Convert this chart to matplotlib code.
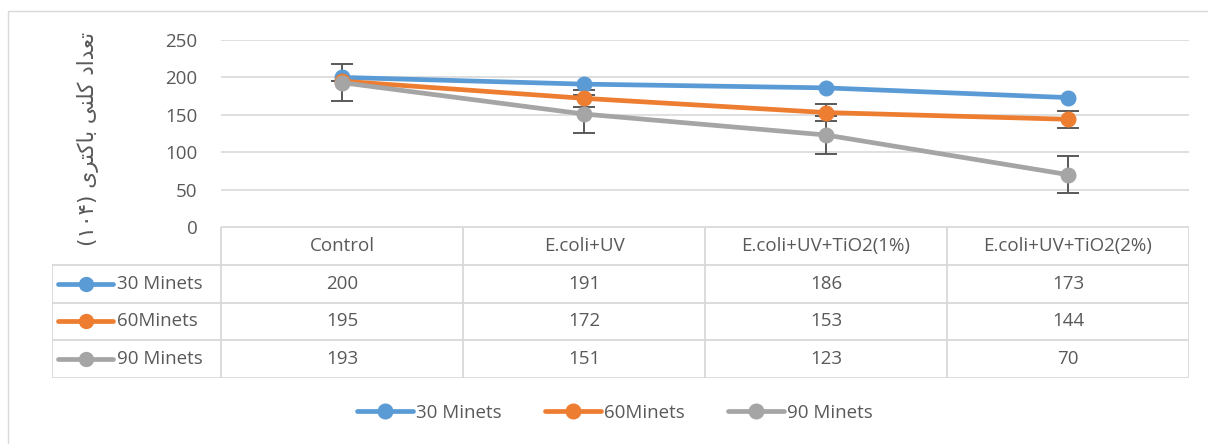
import matplotlib.pyplot as plt
from matplotlib.patches import Rectangle

# data
categories = ['Control', 'E.coli+UV', 'E.coli+UV+TiO2(1%)', 'E.coli+UV+TiO2(2%)']
series_names = ['30 Minets', '60Minets', '90 Minets']
min30 = [200, 191, 186, 173]
min60 = [195, 172, 153, 144]
min90 = [193, 151, 123, 70]
err30 = None
err60 = [0, 11, 11, 11]
err90 = [25, 25, 25, 25]
colors = ['#5B9BD5', '#ED7D31', '#A5A5A5']

# y label: "تعداد کلنی باکتری (۱۰۴)" written in shaped, visual (left-to-right) order
ylabel = ('(\u06f1\u06f0\u06f4) '
          '\ufbfc\ufeae\ufe98\ufb90\ufe8e\ufe91 '
          '\ufbfd\ufee8\ufee0\ufb90 '
          '\ufea9\ufe8d\ufeaa\ufecc\ufe97')

plt.rcParams['font.family'] = ['Open Sans', 'DejaVu Sans']
fs = 13.5
txt = '#595959'
grid_c = '#d9d9d9'

W, H = 1208, 444
fig = plt.figure(figsize=(W / 100, H / 100), dpi=100)


def fx(px):
    return px / W


def fy(py):
    return 1 - py / H


# chart area border
fig.patches.append(Rectangle((fx(8), -0.1), 1.2, fy(11) + 0.1, transform=fig.transFigure,
                             fill=False, edgecolor=grid_c, lw=1))

# plot area
ax = fig.add_axes([fx(221), fy(227), fx(1189) - fx(221), fy(40) - fy(227)])
ax.set_xlim(-0.5, 3.5)
ax.set_ylim(0, 250)
ax.set_yticks(range(0, 251, 50))
ax.set_xticks([])
ax.grid(axis='y', color=grid_c, lw=1.2)
ax.set_axisbelow(True)
for s in ax.spines.values():
    s.set_visible(False)
ax.tick_params(axis='y', length=0, pad=17, labelcolor=txt, labelsize=fs)

x = list(range(len(categories)))
all_series = [min30, min60, min90]
all_err = [err30, err60, err90]
handles = []
for i, (vals, errs, c) in enumerate(zip(all_series, all_err, colors)):
    if errs:
        ax.errorbar(x, vals, yerr=errs, fmt='none', ecolor='#595959', elinewidth=1.4,
                    capsize=8, capthick=1.4, zorder=1.5)
    line, = ax.plot(x, vals, color=c, lw=3.4, marker='o', ms=10.5, zorder=3 + i,
                    solid_capstyle='round', clip_on=False)
    handles.append(line)

# data table under the plot
col_w = 242
left = -0.5 - 169 / col_w
tax = fig.add_axes([fx(52), fy(378), fx(1189) - fx(52), fy(227) - fy(378)])
tax.set_xlim(left, 3.5)
tax.set_ylim(4, 0)
tax.axis('off')
n_rows = len(all_series) + 1
tax.plot([-0.5, 3.5], [0, 0], color=grid_c, lw=1.3)
for r in range(1, n_rows + 1):
    tax.plot([left, 3.5], [r, r], color=grid_c, lw=1.3)
for k in range(len(categories) + 1):
    tax.plot([-0.5 + k, -0.5 + k], [0, n_rows], color=grid_c, lw=1.3)
tax.plot([left, left], [1, n_rows], color=grid_c, lw=1.3)

for i, cat in enumerate(categories):
    tax.text(i, 0.5, cat, ha='center', va='center', fontsize=fs, color=txt)
for r, (vals, name, c) in enumerate(zip(all_series, series_names, colors)):
    yr = r + 1.5
    for i, v in enumerate(vals):
        tax.text(i, yr, str(v), ha='center', va='center', fontsize=fs, color=txt)
    x0, x1 = left + 6 / col_w, left + 61 / col_w
    tax.plot([x0, x1], [yr, yr], color=c, lw=3.4, solid_capstyle='round')
    tax.plot([(x0 + x1) / 2], [yr], marker='o', ms=10, color=c)
    tax.text(left + 65 / col_w, yr, name, ha='left', va='center', fontsize=fs, color=txt)

# legend
fig.legend(handles, series_names, loc='center', bbox_to_anchor=(fx(615), fy(413)), ncol=3,
           frameon=False, handlelength=3.0, handletextpad=0.15, columnspacing=2.3,
           fontsize=fs, labelcolor=txt)

fig.text(fx(88), fy(139), ylabel, rotation=90, ha='center', va='center', fontsize=15.5,
         color=txt, family=['DejaVu Sans'])

fig.savefig('out.png', dpi=100)
